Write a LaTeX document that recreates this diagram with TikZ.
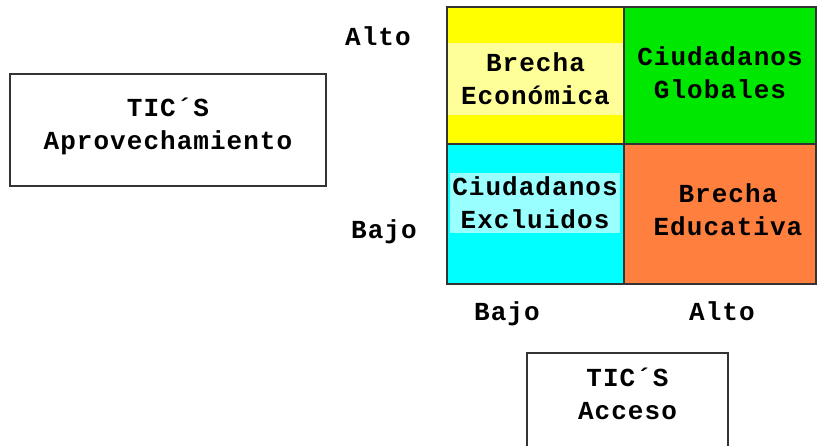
\documentclass[tikz,border=0pt]{standalone}
\usepackage{fontspec}
\setmonofont[LetterSpace=4]{Liberation Mono}
\definecolor{amarillo}{HTML}{FFFF00}
\definecolor{amarilloclaro}{HTML}{FFFF99}
\definecolor{verde}{HTML}{00E800}
\definecolor{celeste}{HTML}{00FFFF}
\definecolor{celesteclaro}{HTML}{99FFFF}
\definecolor{naranja}{HTML}{FF7F3F}
\tikzset{
  celda/.style={draw=black!80, line width=1.5pt, inner sep=0pt},
  texto/.style={font=\ttfamily\bfseries\fontsize{26}{33}\selectfont, align=center, inner sep=0pt},
  caja/.style={draw=black!80, line width=1.2pt, inner sep=0pt}
}
\begin{document}
\begin{tikzpicture}[x=1pt, y=-1pt]
  \clip (0,0) rectangle (817,445);
  \fill[white] (0,0) rectangle (817,445);

  \node[celda, fill=amarillo, minimum width=177pt, minimum height=137pt] (cEco) at (535.5,75.5) {};
  \node[celda, fill=verde, minimum width=192pt, minimum height=137pt] (cGlob) at (720,75.5) {};
  \node[celda, fill=celeste, minimum width=177pt, minimum height=140pt] (cExcl) at (535.5,214) {};
  \node[celda, fill=naranja, minimum width=192pt, minimum height=140pt] (cEdu) at (720,214) {};

  \node[texto, fill=amarilloclaro, minimum width=175pt, minimum height=72pt] (tEco) at (535.5,79) {Brecha\\Económica};
  \node[texto] (tGlob) at (720,73) {Ciudadanos\\Globales};
  \node[texto, fill=celesteclaro, minimum width=170pt, minimum height=60pt] (tExcl) at (535,203) {Ciudadanos\\Excluidos};
  \node[texto] (tEdu) at (728,210) {Brecha\\Educativa};

  \node[texto, anchor=base] (yAlto) at (378,45) {Alto};
  \node[texto, anchor=base] (yBajo) at (384,238) {Bajo};
  \node[texto, anchor=base] (xBajo) at (507,320) {Bajo};
  \node[texto, anchor=base] (xAlto) at (722,320) {Alto};

  \node[caja, minimum width=316pt, minimum height=112pt] (aprov) at (168,130) {};
  \node[texto] (tAprov) at (168,126) {TIC´S\\Aprovechamiento};
  \node[caja, minimum width=201pt, minimum height=100pt] (acceso) at (627.5,403) {};
  \node[texto] (tAcceso) at (627.5,394) {TIC´S\\Acceso};
\end{tikzpicture}
\end{document}
